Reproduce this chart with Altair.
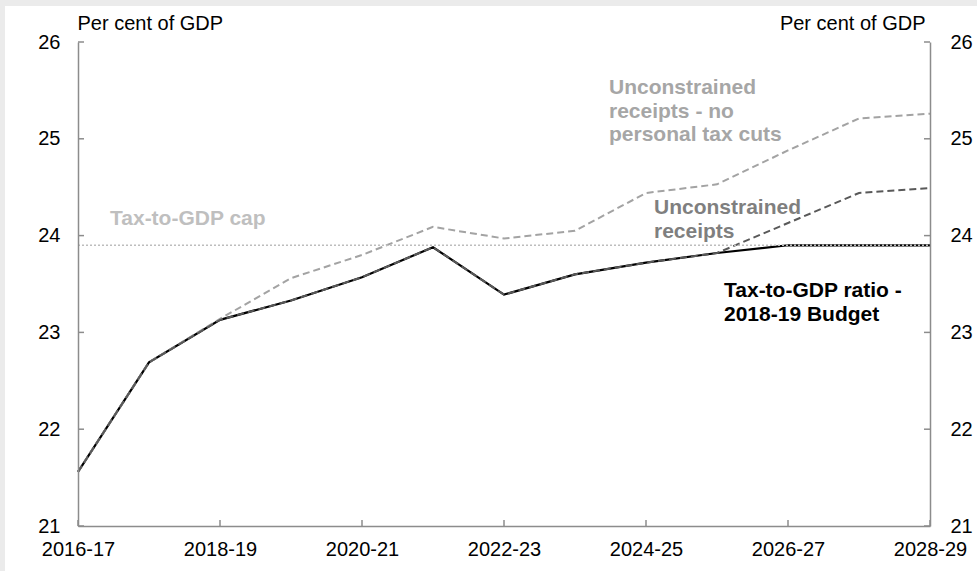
import altair as alt
import pandas as pd

# ---- data ----
years = ["2016-17", "2017-18", "2018-19", "2019-20", "2020-21", "2021-22", "2022-23",
         "2023-24", "2024-25", "2025-26", "2026-27", "2027-28", "2028-29"]
budget = [21.56, 22.69, 23.13, 23.33, 23.57, 23.88, 23.39, 23.60, 23.72, 23.82, 23.90, 23.90, 23.90]
unconstrained = [21.56, 22.69, 23.13, 23.33, 23.57, 23.88, 23.39, 23.60, 23.72, 23.82, 24.13, 24.44, 24.49]
no_tax_cuts = [21.56, 22.69, 23.14, 23.56, 23.80, 24.09, 23.97, 24.05, 24.44, 24.53, 24.88, 25.21, 25.26]
cap_value = 23.9
x_tick_labels = years[::2]
y_tick_values = [21, 22, 23, 24, 25, 26]

FONT = "Liberation Sans"
W, H = 852, 484
AX = "#8c8c8c"

df = pd.DataFrame({"year": years, "budget": budget, "unconstrained": unconstrained,
                   "no_cuts": no_tax_cuts, "cap": [cap_value] * len(years)})
xt = pd.DataFrame({"year": x_tick_labels})
yt = pd.DataFrame({"v": y_tick_values})

xscale = alt.Scale(type="point", domain=years, padding=0)
yscale = alt.Scale(domain=[21, 26], nice=False, zero=False)

base = alt.Chart(df)
one = pd.DataFrame({"a": [0]})

# grey page frame strips (top and left)
strip_top = alt.Chart(one).mark_rect(color="#ebebeb").encode(
    x=alt.value(-78), x2=alt.value(W + 47), y=alt.value(-42), y2=alt.value(-36))
strip_left = alt.Chart(one).mark_rect(color="#ebebeb").encode(
    x=alt.value(-78), x2=alt.value(-73), y=alt.value(-42), y2=alt.value(H + 45))

line_budget = base.mark_line(color="black", strokeWidth=2.2).encode(
    x=alt.X("year:O", scale=xscale,
            axis=alt.Axis(values=x_tick_labels, labelAngle=0, ticks=False, tickSize=0,
                          domainColor=AX, domainWidth=1.5, labelFont=FONT,
                          labelFontSize=20, labelColor="black", labelPadding=13,
                          title=None, grid=False, zindex=1)),
    y=alt.Y("budget:Q", scale=yscale,
            axis=alt.Axis(values=y_tick_values, format="d", ticks=False, tickSize=0,
                          grid=False, domainColor=AX, domainWidth=1.5, labelFont=FONT,
                          labelFontSize=20, labelColor="black", labelPadding=18,
                          title="Per cent of GDP", titleAngle=0, titleAlign="left",
                          titleBaseline="alphabetic", titleX=-1, titleY=-13,
                          titleFont=FONT, titleFontSize=20, titleFontWeight="normal",
                          titleColor="black", zindex=1)))

line_noc = base.mark_line(color="#a3a3a3", strokeWidth=2, strokeDash=[7, 4]).encode(
    x=alt.X("year:O", scale=xscale),
    y=alt.Y("no_cuts:Q", scale=yscale))

line_unc = base.mark_line(color="#595959", strokeWidth=2, strokeDash=[7, 4]).encode(
    x=alt.X("year:O", scale=xscale),
    y=alt.Y("unconstrained:Q", scale=yscale))

line_cap = base.mark_line(color="#bdbdbd", strokeWidth=1.5, strokeDash=[2, 2]).encode(
    x=alt.X("year:O", scale=xscale),
    y=alt.Y("cap:Q", scale=yscale))

xticks = alt.Chart(xt).mark_rule(color=AX, strokeWidth=1.5).encode(
    x=alt.X("year:O", scale=xscale),
    y=alt.value(H - 6), y2=alt.value(H))

yticks_left = alt.Chart(yt).mark_rule(color=AX, strokeWidth=1.5).encode(
    y=alt.Y("v:Q", scale=yscale),
    x=alt.value(0), x2=alt.value(6))

def label(lines, x, y, color):
    return alt.Chart(one).mark_text(
        align="left", baseline="alphabetic", font=FONT, fontSize=21, fontWeight="bold",
        color=color, lineHeight=23.5).encode(
        x=alt.value(x), y=alt.value(y), text=alt.value(lines))

lbl_cap = label("Tax-to-GDP cap", 32, 183, "#bfbfbf")
lbl_noc = label(["Unconstrained", "receipts - no", "personal tax cuts"], 531, 52, "#a6a6a6")
lbl_unc = label(["Unconstrained", "receipts"], 576, 172, "#7f7f7f")
lbl_bud = label(["Tax-to-GDP ratio -", "2018-19 Budget"], 646, 255, "black")

inner = alt.layer(line_budget, line_noc, line_unc, line_cap, xticks, yticks_left,
                  lbl_cap, lbl_noc, lbl_unc, lbl_bud, strip_top, strip_left)

right = alt.Chart(yt).mark_rule(color=AX, strokeWidth=1.5).encode(
    y=alt.Y("v:Q", scale=yscale,
            axis=alt.Axis(orient="right", values=y_tick_values, format="d", ticks=False,
                          tickSize=0, grid=False, domainColor=AX, domainWidth=1.5,
                          labelFont=FONT, labelFontSize=20, labelColor="black",
                          labelPadding=20, title="Per cent of GDP", titleAngle=0,
                          titleAlign="right", titleBaseline="alphabetic", titleX=-5,
                          titleY=-13, titleFont=FONT, titleFontSize=20,
                          titleFontWeight="normal", titleColor="black", zindex=1)),
    x=alt.value(W - 6), x2=alt.value(W))

chart = alt.layer(inner, right).resolve_scale(y="independent").properties(
    width=W, height=H,
    autosize=alt.AutoSizeParams(type="none"),
    padding={"left": 78, "top": 42, "right": 47, "bottom": 45},
    background="white",
).configure_view(strokeWidth=0)

chart.save("out.html", embed_options={"renderer": "svg", "actions": False})
